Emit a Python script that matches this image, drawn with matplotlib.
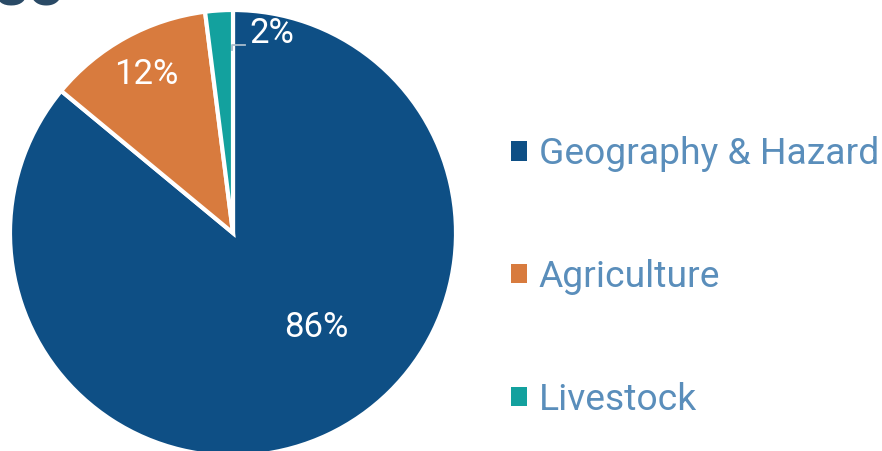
import numpy as np
from matplotlib import pyplot as plt

plt.rcParams['font.family'] = ['Roboto', 'DejaVu Sans']

labels = ['Geography & Hazard', 'Agriculture', 'Livestock']
shares = [86, 12, 2]
colors = ['#0e4f85', '#d87b3e', '#13a19e']

W, H = 882, 451
fig = plt.figure(figsize=(W / 100, H / 100), dpi=100)

# pie: centre (233, 233) px from top-left, radius 223 px
cx, cy, r = 233, 233, 223
ax = fig.add_axes([(cx - r) / W, (H - cy - r) / H, 2 * r / W, 2 * r / H])
wedges, texts, pcts = ax.pie(shares, colors=colors, startangle=90, counterclock=False,
                             autopct='%d%%', pctdistance=0.81,
                             wedgeprops=dict(edgecolor='white', linewidth=3),
                             textprops=dict(color='white', fontsize=25))
ax.set_xlim(-1, 1)
ax.set_ylim(-1, 1)
ax.set_aspect('equal')
ax.axis('off')

# big slice label sits lower right
pcts[0].set_position((0.372, -0.426))

# small slice: label outside of the wedge with a little elbow leader line
pcts[2].set_visible(False)
th = np.deg2rad(min(wedges[2].theta1, wedges[2].theta2) + 0.2)
x0, y0 = 0.82 * np.cos(th), 0.82 * np.sin(th)
ax.plot([x0, x0, 0.055], [y0, 0.845, 0.845], color='#a8bccd', lw=1.3)
ax.text(0.075, 0.895, '2%', color='white', fontsize=25, ha='left', va='center')

# cut-off title remains at the top edge
fig.text(-0.008, 0.987, 'so', color='#2a4a66', fontsize=48, fontweight='bold',
         ha='left', va='baseline')

leg = fig.legend(wedges, labels, loc='center left', bbox_to_anchor=(511 / W, 174 / H),
                 frameon=False, fontsize=26.8, labelspacing=2.33,
                 handlelength=0.43, handleheight=0.43, handletextpad=0.32,
                 borderaxespad=0, borderpad=0)
for t in leg.get_texts():
    t.set_color('#5a8ebb')
for h in leg.legend_handles:
    h.set_edgecolor('none')

fig.savefig('out.png', dpi=100)
